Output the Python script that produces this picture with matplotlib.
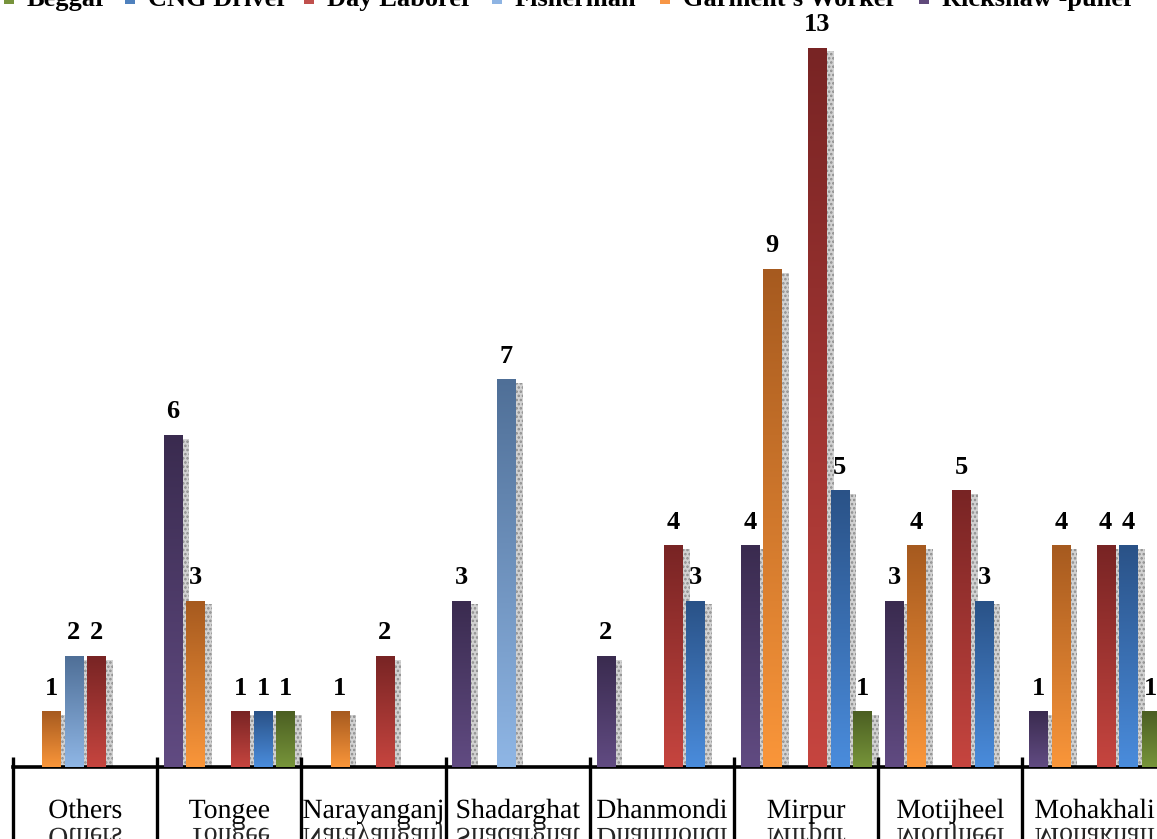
import matplotlib
matplotlib.use("Agg")
import matplotlib.pyplot as plt
import numpy as np
from matplotlib.colors import LinearSegmentedColormap
from matplotlib.patches import Rectangle
from matplotlib.transforms import Affine2D
from matplotlib import patheffects

categories = ["Others", "Tongee", "Narayanganj", "Shadarghat",
              "Dhanmondi", "Mirpur", "Motijheel", "Mohakhali"]

rickshaw = [0, 6, 0, 3, 2, 4, 3, 1]
garments = [1, 3, 1, 0, 0, 9, 4, 4]
fisherman = [2, 0, 0, 7, 0, 0, 0, 0]
day_laborer = [2, 1, 2, 0, 4, 13, 5, 4]
cng_driver = [0, 1, 0, 0, 3, 5, 3, 4]
beggar = [0, 1, 0, 0, 0, 1, 0, 1]

series_names = ["Rickshaw -puller", "Garment's Worker", "Fisherman",
                "Day Laborer", "CNG Driver", "Beggar"]
series_values = [rickshaw, garments, fisherman, day_laborer, cng_driver, beggar]

# (top colour, bottom colour) for each bar gradient
gradients = [("#3a2b4f", "#614b82"),
             ("#a65a1f", "#fa963a"),
             ("#4f6f97", "#8fb6e5"),
             ("#782424", "#c6453f"),
             ("#2a5287", "#4a8cdc"),
             ("#4b5e22", "#77953a")]
legend_colors = ["#604a7b", "#f79646", "#8eb4e3", "#c0504d", "#4f81bd", "#77933c"]

SERIF = "Liberation Serif"
W, H = 1157, 839


class Reflect(patheffects.AbstractPathEffect):
    """Mirror the glyphs about a line just under the baseline."""

    def __init__(self, gap=5, alpha=0.85):
        super().__init__()
        self.gap = gap
        self.alpha = alpha

    def draw_path(self, renderer, gc, tpath, affine, rgbFace=None):
        y0 = affine.transform((0, 0))[1] - self.gap
        flip = Affine2D().translate(0, -y0).scale(1, -1).translate(0, y0)
        gc0 = renderer.new_gc()
        gc0.copy_properties(gc)
        gc0.set_alpha(self.alpha)
        renderer.draw_path(gc0, tpath, affine + flip, rgbFace)
        gc0.restore()


plt.rcParams["hatch.linewidth"] = 1.2

fig = plt.figure(figsize=(W / 100, H / 100), dpi=100)
ax = fig.add_axes([13 / W, 72 / H, 8 * 144.2 / W, 767 / H])

slot = 0.156
bar_w = 0.127
for j, (vals, (top, bottom)) in enumerate(zip(series_values, gradients)):
    cmap = LinearSegmentedColormap.from_list("g%d" % j, [bottom, top])
    grad = np.linspace(0, 1, 256).reshape(-1, 1)
    for i, v in enumerate(vals):
        if v == 0:
            continue
        xc = i + 0.5 + (j - 2.5) * slot
        x0 = xc - bar_w / 2
        # soft drop shadow
        ax.add_patch(Rectangle((x0 + 0.05, 0), bar_w, v - 0.06,
                               facecolor="#d2d2d2", edgecolor="#8c8c8c",
                               hatch="....", lw=0, zorder=2))
        ax.imshow(grad, cmap=cmap, extent=(x0, x0 + bar_w, 0, v),
                  origin="lower", aspect="auto", zorder=3,
                  interpolation="bilinear")
        ax.annotate(str(v), (xc, v), xytext=(0, 12.2),
                    textcoords="offset points", ha="center", va="baseline",
                    fontsize=19, fontweight="bold", family=SERIF, zorder=5)

ax.set_xlim(0, 8)
ax.set_ylim(0, 13.87)

for s in ["top", "left", "right"]:
    ax.spines[s].set_visible(False)
ax.spines["bottom"].set_linewidth(2.6)
ax.set_xticks([])
ax.set_yticks([])

# category separators running down through the label band
ax.vlines(np.arange(0, 9), -3, 0.18, colors="black", lw=2.4, clip_on=False,
          zorder=6)

for i, name in enumerate(categories):
    ax.annotate(name, (i + 0.5, 0), xytext=(0, -36.7),
                textcoords="offset points", ha="center", va="baseline",
                fontsize=20, family=SERIF, annotation_clip=False,
                path_effects=[patheffects.Normal(), Reflect(gap=5)])

# legend strip, partly cut off by the top edge
legend_order = [5, 4, 3, 2, 1, 0]
legend_x = [27, 148, 327, 515, 683, 942]
for k, x in zip(legend_order, legend_x):
    fig.add_artist(Rectangle(((x - 23) / W, 835 / H), 10 / W, 9 / H,
                             transform=fig.transFigure,
                             facecolor=legend_colors[k], lw=0))
    fig.text(x / W, 833 / H, series_names[k], fontsize=19, fontweight="bold",
             family=SERIF, va="baseline", ha="left")

fig.savefig("out.png", dpi=100)
